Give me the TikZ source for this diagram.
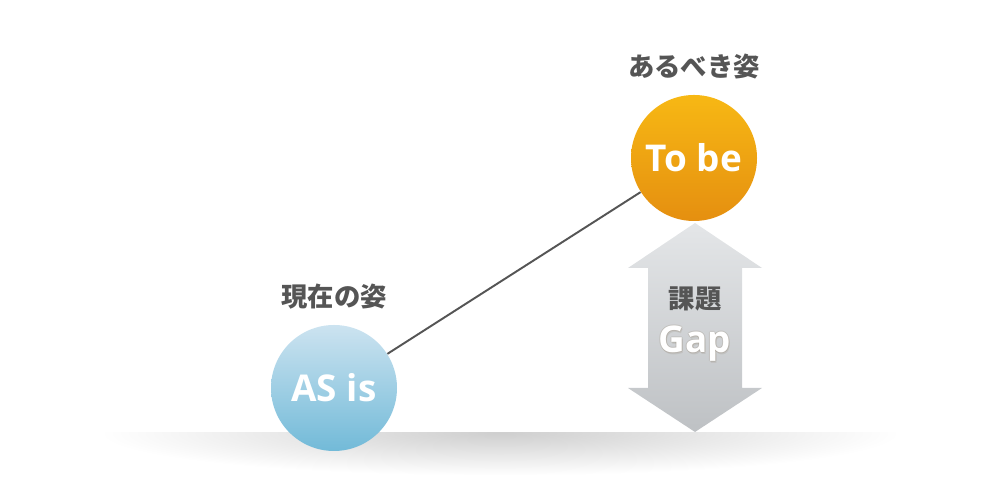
\documentclass[tikz,border=0pt]{standalone}
\usepackage{fontspec}
\setmainfont{Open Sans}
\newfontfamily\jpfont{Noto Sans CJK JP}
\usetikzlibrary{positioning,calc}
\definecolor{ntextgray}{HTML}{555555}
\definecolor{norangetop}{HTML}{F7B814}
\definecolor{norangebot}{HTML}{E58F10}
\definecolor{nbluetop}{HTML}{CCE3F0}
\definecolor{nbluebot}{HTML}{72BAD8}
\definecolor{ngraytop}{HTML}{E4E6E8}
\definecolor{ngraybot}{HTML}{BEC1C4}
\definecolor{nglow}{HTML}{6E5A3C}

\begin{document}
\begin{tikzpicture}[
  ball/.style={circle, minimum size=2.52cm, inner sep=0pt, text=white,
    font=\bfseries\fontsize{21}{24}\selectfont},
  jplabel/.style={text=ntextgray, font=\jpfont\bfseries\fontsize{15}{18}\selectfont}]
 \useasboundingbox (0,0) rectangle (20,10);
 % floor shadow
 \begin{scope}
  \clip (1.5,1.34) rectangle (18.5,0.2);
  \shade[inner color=gray!38, outer color=white] (10,1.34) ellipse (8 and 0.85);
 \end{scope}
 % gap arrow
 \coordinate (gaptop) at (13.9,5.54);
 \coordinate (gapbot) at (13.9,1.36);
 \shade[top color=ngraytop, bottom color=ngraybot]
  (gaptop) -- ++(1.34,-0.9) -- ++(-0.4,0) |- ($(gapbot)+(0.94,0.88)$)
  -- ++(0.4,0) -- (gapbot) -- ++(-1.34,0.88) -- ++(0.4,0)
  |- ($(gaptop)+(-0.94,-0.9)$) -- ++(-0.4,0) -- cycle;
 \node[jplabel] (kadai) at (13.9,4.03) {課題};
 \foreach \dx/\dy in {0.6/0, -0.6/0, 0/0.6, 0/-0.6, 0.3/-0.9}
  \node[text=nglow, opacity=0.12, font=\bfseries\fontsize{21}{24}\selectfont]
   at ($(13.9,3.12)+(\dx pt,\dy pt)$) {Gap};
 \node[text=white, font=\bfseries\fontsize{21}{24}\selectfont] (gap) at (13.9,3.12) {Gap};
 % states
 \node[ball, top color=norangetop, bottom color=norangebot] (tobe) at (13.88,6.84) {To be};
 \node[ball, top color=nbluetop, bottom color=nbluebot] (asis) at (6.68,2.24) {AS is};
 \draw[ntextgray, line width=1.1pt] (asis) -- (tobe);
 \node[jplabel, above=0.18cm of tobe] (tobelabel) {あるべき姿};
 \node[jplabel, above=0.18cm of asis] (asislabel) {現在の姿};
\end{tikzpicture}
\end{document}
